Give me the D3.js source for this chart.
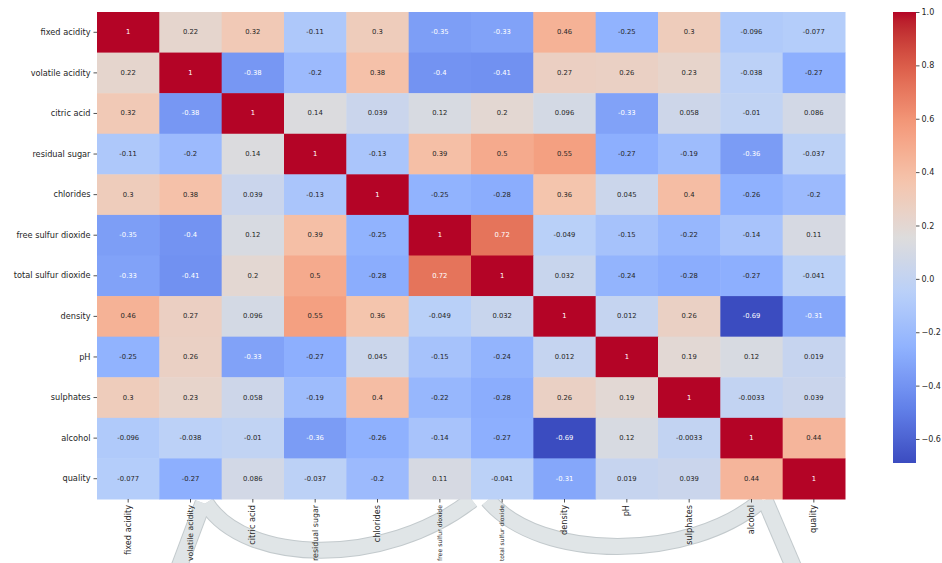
<!DOCTYPE html>
<html>
<head>
<meta charset="utf-8">
<script src="https://cdn.jsdelivr.net/npm/d3@7"></script>
<style>
  html, body { margin: 0; padding: 0; background: #ffffff; }
  svg { display: block; }
  text { font-family: "DejaVu Sans", sans-serif; }
</style>
</head>
<body>
<svg id="chart" width="942" height="563"></svg>
<script>
// ---------- data ----------
const variables = ["fixed acidity", "volatile acidity", "citric acid", "residual sugar", "chlorides",
  "free sulfur dioxide", "total sulfur dioxide", "density", "pH", "sulphates", "alcohol", "quality"];

const rowFixedAcidity      = [1, 0.22, 0.32, -0.11, 0.3, -0.35, -0.33, 0.46, -0.25, 0.3, -0.096, -0.077];
const rowVolatileAcidity   = [0.22, 1, -0.38, -0.2, 0.38, -0.4, -0.41, 0.27, 0.26, 0.23, -0.038, -0.27];
const rowCitricAcid        = [0.32, -0.38, 1, 0.14, 0.039, 0.12, 0.2, 0.096, -0.33, 0.058, -0.01, 0.086];
const rowResidualSugar     = [-0.11, -0.2, 0.14, 1, -0.13, 0.39, 0.5, 0.55, -0.27, -0.19, -0.36, -0.037];
const rowChlorides         = [0.3, 0.38, 0.039, -0.13, 1, -0.25, -0.28, 0.36, 0.045, 0.4, -0.26, -0.2];
const rowFreeSulfur        = [-0.35, -0.4, 0.12, 0.39, -0.25, 1, 0.72, -0.049, -0.15, -0.22, -0.14, 0.11];
const rowTotalSulfur       = [-0.33, -0.41, 0.2, 0.5, -0.28, 0.72, 1, 0.032, -0.24, -0.28, -0.27, -0.041];
const rowDensity           = [0.46, 0.27, 0.096, 0.55, 0.36, -0.049, 0.032, 1, 0.012, 0.26, -0.69, -0.31];
const rowPH                = [-0.25, 0.26, -0.33, -0.27, 0.045, -0.15, -0.24, 0.012, 1, 0.19, 0.12, 0.019];
const rowSulphates         = [0.3, 0.23, 0.058, -0.19, 0.4, -0.22, -0.28, 0.26, 0.19, 1, -0.0033, 0.039];
const rowAlcohol           = [-0.096, -0.038, -0.01, -0.36, -0.26, -0.14, -0.27, -0.69, 0.12, -0.0033, 1, 0.44];
const rowQuality           = [-0.077, -0.27, 0.086, -0.037, -0.2, 0.11, -0.041, -0.31, 0.019, 0.039, 0.44, 1];

const colorbarTicks = [1.0, 0.8, 0.6, 0.4, 0.2, 0.0, -0.2, -0.4, -0.6];

const matrix = [rowFixedAcidity, rowVolatileAcidity, rowCitricAcid, rowResidualSugar, rowChlorides,
  rowFreeSulfur, rowTotalSulfur, rowDensity, rowPH, rowSulphates, rowAlcohol, rowQuality];

// ---------- setup ----------
const svg = d3.select("#chart");
const W = 942, H = 563;
const hm = { left: 97, right: 845, top: 12, bottom: 499 };
const cb = { left: 893, right: 916, top: 12, bottom: 463 };
const textColor = "#262626";

const cells = [];
matrix.forEach((row, i) => row.forEach((v, j) => cells.push({ r: variables[i], c: variables[j], v })));

const vmin = d3.min(cells, d => d.v);
const vmax = d3.max(cells, d => d.v);

// matplotlib "coolwarm" approximated with control points
const coolwarmStops = ["#3b4cc0", "#6282ea", "#8db0fe", "#b8d0f9", "#dddcdc", "#f5c4ac", "#f49a7b", "#dd604c", "#b40426"];
const coolwarm = d3.piecewise(d3.interpolateLab, coolwarmStops);
const color = d3.scaleSequential(coolwarm).domain([vmin, vmax]);

const x = d3.scaleBand().domain(variables).range([hm.left, hm.right]);
const y = d3.scaleBand().domain(variables).range([hm.top, hm.bottom]);

// ---------- decorative ribbon (background artifact in the reference, behind labels) ----------
const ribbon = svg.append("g");
const ribbonPaths = [
  "M176,575 L203,503",
  "M206,503 C245,565 385,568 472,500",
  "M488,500 C540,562 690,562 762,500",
  "M765,500 L797,575"
];
ribbonPaths.forEach(p => {
  ribbon.append("path").attr("d", p).attr("fill", "none").attr("stroke", "#c3cacd").attr("stroke-width", 17);
});
ribbonPaths.forEach(p => {
  ribbon.append("path").attr("d", p).attr("fill", "none").attr("stroke", "#e0e5e7").attr("stroke-width", 15);
});

// ---------- heatmap cells ----------
svg.append("g").selectAll("rect").data(cells).join("rect")
  .attr("x", d => x(d.c))
  .attr("y", d => y(d.r))
  .attr("width", x.bandwidth() + 0.5)
  .attr("height", y.bandwidth() + 0.5)
  .attr("fill", d => color(d.v));

// annotations (".2g" style, like seaborn)
const fmt2g = d3.format(".2~g");
function fmt(v) {
  if (v === 1) return "1";
  return fmt2g(v).replace("\u2212", "-");
}
function lum(c) {
  const rgb = d3.rgb(c);
  const f = u => { u /= 255; return u <= 0.03928 ? u / 12.92 : Math.pow((u + 0.055) / 1.055, 2.4); };
  return 0.2126 * f(rgb.r) + 0.7152 * f(rgb.g) + 0.0722 * f(rgb.b);
}
svg.append("g").selectAll("text").data(cells).join("text")
  .attr("x", d => x(d.c) + x.bandwidth() / 2)
  .attr("y", d => y(d.r) + y.bandwidth() / 2)
  .attr("text-anchor", "middle")
  .attr("dominant-baseline", "central")
  .attr("font-size", 6.8)
  .attr("fill", d => lum(color(d.v)) > 0.408 ? textColor : "#ffffff")
  .text(d => fmt(d.v));

// ---------- axes ----------
const yAxis = svg.append("g")
  .attr("transform", `translate(${hm.left},0)`)
  .call(d3.axisLeft(y).tickSize(3.5).tickPadding(3));
yAxis.select(".domain").remove();
yAxis.selectAll("line").attr("stroke", textColor).attr("stroke-width", 0.8);
yAxis.selectAll("text").attr("font-size", 8.2).attr("fill", textColor).attr("font-family", "DejaVu Sans, sans-serif");

const xAxis = svg.append("g")
  .attr("transform", `translate(0,${hm.bottom})`)
  .call(d3.axisBottom(x).tickSize(3.5).tickPadding(3));
xAxis.select(".domain").remove();
xAxis.selectAll("line").attr("stroke", textColor).attr("stroke-width", 0.8);
const labelStart = hm.bottom + 6;
xAxis.selectAll("text")
  .attr("font-size", 8.2).attr("fill", textColor).attr("font-family", "DejaVu Sans, sans-serif")
  .attr("transform", "rotate(-90)")
  .attr("text-anchor", "end")
  .attr("dy", "0.32em")
  .attr("x", -6).attr("y", 0)
  .each(function () {
    // shrink labels that would run past the bottom edge
    const len = this.getComputedTextLength();
    const avail = H - labelStart - 2;
    if (len > avail) {
      const fs = 8.2 * avail / len;
      d3.select(this).attr("font-size", fs.toFixed(2));
    }
  });

// ---------- colorbar ----------
const defs = svg.append("defs");
const grad = defs.append("linearGradient").attr("id", "cbgrad")
  .attr("x1", "0").attr("y1", "1").attr("x2", "0").attr("y2", "0");
d3.range(0, 1.0001, 0.02).forEach(t => {
  grad.append("stop").attr("offset", t).attr("stop-color", coolwarm(t));
});
svg.append("rect")
  .attr("x", cb.left).attr("y", cb.top)
  .attr("width", cb.right - cb.left).attr("height", cb.bottom - cb.top)
  .attr("fill", "url(#cbgrad)");

const cbScale = d3.scaleLinear().domain([vmin, vmax]).range([cb.bottom, cb.top]);
const cbAxis = svg.append("g")
  .attr("transform", `translate(${cb.right},0)`)
  .call(d3.axisRight(cbScale).tickValues(colorbarTicks).tickFormat(d3.format(".1f")).tickSize(3.5).tickPadding(2));
cbAxis.select(".domain").remove();
cbAxis.selectAll("line").attr("stroke", textColor).attr("stroke-width", 0.8);
cbAxis.selectAll("text").attr("font-size", 8).attr("fill", textColor).attr("font-family", "DejaVu Sans, sans-serif");
</script>
</body>
</html>
